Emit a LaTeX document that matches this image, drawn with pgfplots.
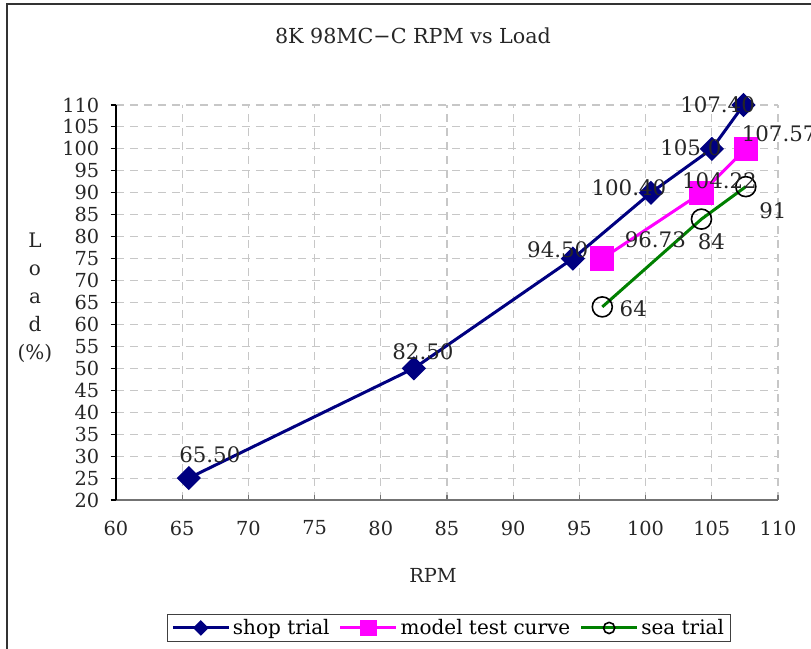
\documentclass[border=0pt]{standalone}
\usepackage{pgfplots}
\pgfplotsset{compat=1.18}
\usepackage{fontspec}
\setmainfont{DejaVu Serif}
\definecolor{navyc}{RGB}{0,0,128}
\definecolor{magc}{RGB}{255,0,255}
\definecolor{greenc}{RGB}{0,128,0}
\tikzset{lab/.style={font=\fontsize{16}{19}\selectfont, text=black!85, inner sep=0pt}}
\begin{document}
\begin{tikzpicture}[x=0.75pt,y=0.75pt]
\useasboundingbox (-116,-149) rectangle (695,500);
\clip (-116,-149) rectangle (695,500);
\draw[line width=1.3pt, black!80] (-109,496) rectangle (740,-180);
\begin{axis}[at={(0,0)}, anchor=south west, scale only axis,
  width=496.5pt, height=296.25pt,
  xmin=60, xmax=110, ymin=20, ymax=110,
  xtick={60,65,...,110}, ytick={20,25,...,110},
  axis x line*=bottom, axis y line*=left,
  x axis line style={black!55, line width=1.2pt},
  y axis line style={black, line width=1pt},
  xtick align=inside, ytick align=outside,
  major tick length=4pt,
  xtick style={black!55, line width=0.8pt},
  ytick style={black, line width=0.8pt},
  grid=major,
  major grid style={black!22, dash pattern=on 6pt off 4.5pt, line width=0.8pt},
  clip=false,
  /pgf/number format/assume math mode=true,
  ticklabel style={font=\fontsize{14.5}{17}\selectfont, text=black!85},
  x tick label style={yshift=-12pt},
  y tick label style={xshift=-5pt},
  legend style={at={(0.503,-0.324)}, anchor=center, legend columns=-1,
    draw=black!75, line width=0.8pt, font=\fontsize{15}{17}\selectfont,
    inner xsep=3pt, inner ysep=1.5pt,
    /tikz/every even column/.append style={column sep=5pt}},
  legend image code/.code={\draw[mark repeat=2,mark phase=2,#1] plot coordinates {(0pt,0pt) (21pt,0pt) (42pt,0pt)};},
]
\addplot[color=navyc, line width=2.25pt, mark=square*, mark size=5.3pt,
  mark options={rotate=45, solid}, legend image post style={mark size=3pt}]
  coordinates {(65.5,25) (82.5,50) (94.5,75) (100.4,90) (105,100) (107.4,110)};
\addlegendentry{shop trial}
\addplot[color=magc, line width=2.25pt, mark=square*, mark size=8pt,
  legend image post style={mark size=5pt}]
  coordinates {(96.73,75) (104.22,90) (107.57,100)};
\addlegendentry{model test curve}
\addplot[color=greenc, line width=2.25pt, mark=o, mark size=7.5pt,
  mark options={draw=black, line width=1.2pt}, legend image post style={mark size=4.2pt}]
  coordinates {(96.73,64) (104.22,84) (107.57,91.4)};
\addlegendentry{sea trial}
\coordinate (s1) at (axis cs:65.5,25);
\coordinate (s2) at (axis cs:82.5,50);
\coordinate (s3) at (axis cs:94.5,75);
\coordinate (s4) at (axis cs:100.4,90);
\coordinate (s5) at (axis cs:105,100);
\coordinate (s6) at (axis cs:107.4,110);
\coordinate (m1) at (axis cs:96.73,75);
\coordinate (m2) at (axis cs:104.22,90);
\coordinate (m3) at (axis cs:107.57,100);
\coordinate (t1) at (axis cs:96.73,64);
\coordinate (t2) at (axis cs:104.22,84);
\coordinate (t3) at (axis cs:107.57,91.4);
\end{axis}
\node[lab, xshift=15.75pt, yshift=17.25pt] at (s1) {65.50};
\node[lab, xshift=6.75pt, yshift=12.75pt] at (s2) {82.50};
\node[lab, xshift=-11.25pt, yshift=6.75pt] at (s3) {94.50};
\node[lab, xshift=-16.5pt, yshift=3.75pt] at (s4) {100.40};
\node[lab, xshift=-15.75pt, yshift=0.75pt] at (s5) {105.0};
\node[lab, xshift=-19.5pt, yshift=0pt] at (s6) {107.40};
\node[lab, xshift=39.75pt, yshift=14.25pt] at (m1) {96.73};
\node[lab, xshift=13.5pt, yshift=9pt] at (m2) {104.22};
\node[lab, xshift=25pt, yshift=11.25pt] at (m3) {107.57};
\node[lab, xshift=23.25pt, yshift=-1.5pt] at (t1) {64};
\node[lab, xshift=7.5pt, yshift=-17.25pt] at (t2) {84};
\node[lab, xshift=20.25pt, yshift=-18pt] at (t3) {91};
\node[font=\fontsize{15.5}{18}\selectfont, text=black!85] at (297,464) {8K 98MC−C RPM vs Load};
\node[font=\fontsize{15}{21}\selectfont, text=black!85, align=center] at (-81,202) {L\\o\\a\\d\\(\%)};
\node[font=\fontsize{14.5}{17}\selectfont, text=black!85] at (317,-75) {RPM};
\end{tikzpicture}
\end{document}
